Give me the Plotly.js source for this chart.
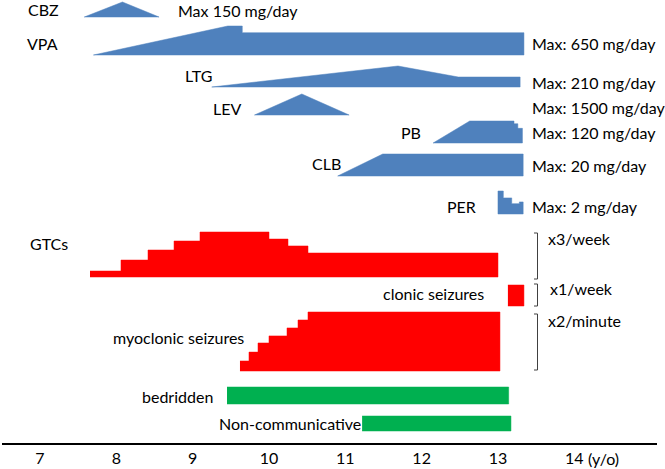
<!DOCTYPE html>
<html><head><meta charset="utf-8">
<script src="https://cdn.plot.ly/plotly-3.0.1.min.js"></script>
<style>html,body{margin:0;padding:0;background:#fff}#chart{width:665px;height:469px}</style>
</head><body><div id="chart"></div>
<script>
// ---------------- data (ages in years, doses in mg/day) ----------------
const drugNames = ["CBZ", "VPA", "LTG", "LEV", "PB", "CLB", "PER"];
const drugMaxLabels = ["Max 150 mg/day", "Max: 650 mg/day", "Max: 210 mg/day", "Max: 1500 mg/day",
                       "Max: 120 mg/day", "Max: 20 mg/day", "Max: 2 mg/day"];
const drugMax = [150, 650, 210, 1500, 120, 20, 2];

const cbzAge  = [7.58, 8.08, 8.56];
const cbzDose = [0, 150, 0];
const vpaAge  = [7.70, 9.46, 9.65, 9.65, 13.34];
const vpaDose = [0, 650, 650, 500, 500];
const ltgAge  = [9.25, 11.69, 12.48, 13.29];
const ltgDose = [0, 210, 100, 100];
const levAge  = [9.81, 10.43, 11.05];
const levDose = [0, 1500, 0];
const pbAge   = [12.15, 12.63, 13.21, 13.21, 13.26, 13.26, 13.32];
const pbDose  = [0, 120, 120, 105, 105, 80, 80];
const clbAge  = [10.90, 11.49, 13.33];
const clbDose = [0, 20, 20];
const perAge  = [13.00, 13.00, 13.07, 13.07, 13.18, 13.18, 13.28, 13.28, 13.33];
const perDose = [0, 2, 2, 1.4, 1.4, 0.9, 0.9, 1.05, 1.05];

// seizures: step edges (ages) and frequency per step
const gtcEdges   = [7.655, 8.061, 8.415, 8.756, 9.096, 10.0, 10.249, 10.511, 13.0];
const gtcPerWeek = [0.4, 1.13, 1.8, 2.4, 3.0, 2.53, 2.07, 1.6];
const myoEdges   = [9.62, 9.738, 9.856, 10.0, 10.236, 10.38, 10.511, 13.026];
const myoPerMin  = [0.34, 0.64, 0.95, 1.19, 1.46, 1.73, 2.0];
const clonicSpan = [13.13, 13.34];
const clonicPerWeek = 1;

const bedriddenSpan = [9.45, 13.14];
const noncommSpan   = [11.22, 13.17];

const tickVals = [7, 8, 9, 10, 11, 12, 13, 14];
const tickText = ["7", "8", "9", "10", "11", "12", "13", "14"];

// ---------------- layout helpers ----------------
const BLUE = "#4F81BD", RED = "#FF0000", GREEN = "#00B050";
const FONT = "Lato, 'Open Sans', sans-serif";
const PXYR = 76.33;                 // pixels per year
const age = px => 7 + (px - 40) / PXYR;   // pixel column -> age, for label placement

// row baselines / heights (y axis in px from top)
const drugRows = [
  {base: 17, h: 15}, {base: 55, h: 29}, {base: 87, h: 21}, {base: 115, h: 21},
  {base: 143, h: 22}, {base: 176, h: 22}, {base: 214, h: 23}
];
const drugData = [[cbzAge, cbzDose], [vpaAge, vpaDose], [ltgAge, ltgDose], [levAge, levDose],
                  [pbAge, pbDose], [clbAge, clbDose], [perAge, perDose]];

const traces = [];
function poly(xs, ys, color) {
  traces.push({type: "scatter", mode: "lines", x: xs, y: ys, fill: "toself",
    fillcolor: color, line: {color: color, width: 0.5}, hoverinfo: "skip", showlegend: false});
}
drugData.forEach(([ag, dose], i) => {
  const r = drugRows[i];
  const xs = ag.slice(), ys = dose.map(d => r.base - d / drugMax[i] * r.h);
  xs.push(ag[ag.length - 1], ag[0]); ys.push(r.base, r.base);
  poly(xs, ys, BLUE);
});
function stepPoly(edges, vals, vmax, base, h, color) {
  const xs = [], ys = [];
  vals.forEach((v, k) => {
    const y = base - v / vmax * h;
    xs.push(edges[k], edges[k + 1]); ys.push(y, y);
  });
  xs.push(edges[edges.length - 1], edges[0]); ys.push(base, base);
  poly(xs, ys, color);
}
stepPoly(gtcEdges, gtcPerWeek, 3, 277, 45, RED);
stepPoly(myoEdges, myoPerMin, 2, 371, 59, RED);
stepPoly(clonicSpan, [clonicPerWeek], 1, 306, 21, RED);
stepPoly(bedriddenSpan, [1], 1, 404, 17, GREEN);
stepPoly(noncommSpan, [1], 1, 431, 15, GREEN);

// brackets
const brX0 = age(534), brX1 = age(537.5);
[[233, 279], [284, 306], [314, 370]].forEach(([t, b]) => {
  traces.push({type: "scatter", mode: "lines", x: [brX0, brX1, brX1, brX0], y: [t, t, b, b],
    line: {color: "#404040", width: 1}, hoverinfo: "skip", showlegend: false});
});

// text labels
const ann = [];
function label(text, px, y, anchor) {
  ann.push({text: text, x: age(px), y: y, xref: "x", yref: "y", xanchor: anchor, yanchor: "middle",
    showarrow: false, borderpad: 0, borderwidth: 0,
    font: {family: FONT, size: 16, color: "#000"}});
}
label("CBZ", 28, 9, "left");
label("VPA", 27, 43, "left");
label("LTG", 212, 75, "right");
label("LEV", 241, 108, "right");
label("PB", 421, 132, "right");
label("CLB", 341, 163, "right");
label("PER", 476, 206, "right");
label(drugMaxLabels[0], 178, 10, "left");
const maxY = [null, 43, 82, 107, 132, 165, 206];
for (let i = 1; i < drugMaxLabels.length; i++) label(drugMaxLabels[i], 532, maxY[i], "left");
label("GTCs", 30, 243, "left");
label("clonic seizures", 484, 293, "right");
label("myoclonic seizures", 244, 337, "right");
label("bedridden", 213, 396, "right");
label("Non-communicative", 361, 423, "right");
label("x3/week", 548, 238, "left");
label("x1/week", 550, 288, "left");
label("x2/minute", 548, 320, "left");
ann.push({text: "(y/o)", x: 14, xshift: 14, y: -15 / 443, xref: "x", yref: "paper",
  xanchor: "left", yanchor: "middle", showarrow: false, borderpad: 0, borderwidth: 0,
  font: {family: FONT, size: 16, color: "#000"}});

const layout = {
  width: 665, height: 469,
  margin: {l: 2, r: 8, t: 0, b: 26},
  paper_bgcolor: "#fff", plot_bgcolor: "#fff",
  showlegend: false,
  xaxis: {range: [age(2), age(657)], showgrid: false, zeroline: false, showline: true,
    linecolor: "#000", linewidth: 2, tickvals: tickVals, ticktext: tickText,
    ticks: "", ticklen: 0,
    tickfont: {family: FONT, size: 16, color: "#000"}, fixedrange: true},
  yaxis: {range: [443, 0], visible: false, showgrid: false, zeroline: false, fixedrange: true},
  annotations: ann
};
Plotly.newPlot("chart", traces, layout, {displayModeBar: false, staticPlot: true});
</script></body></html>
